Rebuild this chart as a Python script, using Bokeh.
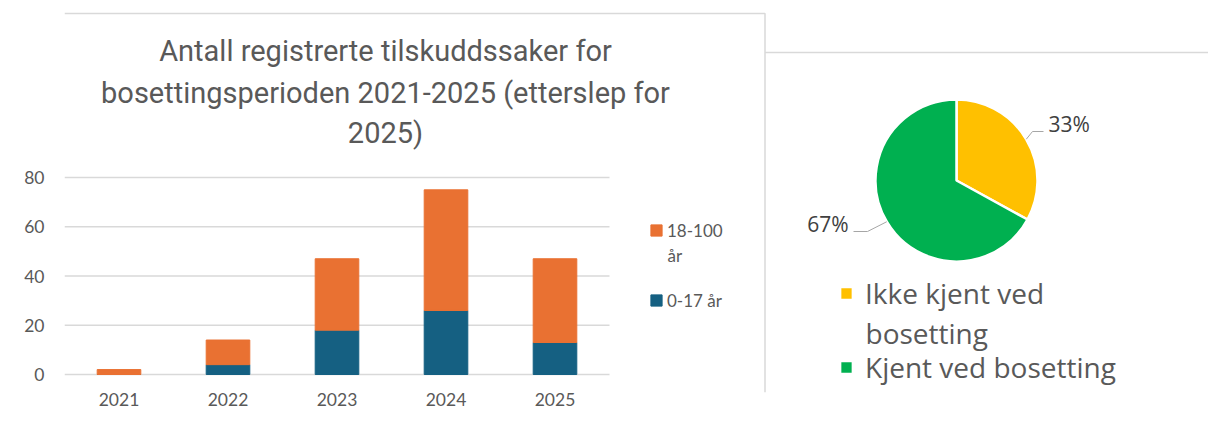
import math
from bokeh.plotting import figure
from bokeh.models import (ColumnDataSource, Range1d, FixedTicker, Label, Legend, LegendItem)
from bokeh.embed import file_html
from bokeh.resources import INLINE

# ---------------- data ----------------
years = ["2021", "2022", "2023", "2024", "2025"]
age_0_17 = [0, 4, 18, 26, 13]
age_18_100 = [2, 10, 29, 49, 34]
y_ticks = [0, 20, 40, 60, 80]
series_labels = ["0-17 år", "18-100 år"]
title_lines = ["Antall registrerte tilskuddssaker for",
               "bosettingsperioden 2021-2025 (etterslep for",
               "2025)"]

pie_labels = ["Ikke kjent ved bosetting", "Kjent ved bosetting"]
pie_shares = [33, 67]
pie_pct_text = ["33%", "67%"]

# ---------------- styles / layout ----------------
BLUE = "#156082"
ORANGE = "#E97132"
YELLOW = "#FFC000"
GREEN = "#00B050"
GRID = "#d9d9d9"
TXT = "#595959"
DARK = "#404040"

W, H = 1208, 424
FL, FB = 64, 32               # frame left / bottom borders (px)
FRAME_BOTTOM = H - FB         # page y of frame bottom
ZERO_Y = 374                  # page y of value 0
PX_PER_UNIT = 197 / 80.0
CAT_W = 109                   # px per category

p = figure(width=W, height=H,
           x_range=Range1d(-0.5, -0.5 + (W - FL) / CAT_W),
           y_range=Range1d(-(FRAME_BOTTOM - ZERO_Y) / PX_PER_UNIT, ZERO_Y / PX_PER_UNIT),
           output_backend="svg", toolbar_location=None,
           min_border_left=FL, min_border_right=0, min_border_top=0, min_border_bottom=FB)
p.extra_x_ranges = {"px": Range1d(FL, W)}
p.extra_y_ranges = {"px": Range1d(FB, H)}
p.title.visible = False
p.outline_line_color = None
p.grid.visible = False
p.background_fill_color = "white"
p.border_fill_color = "white"

for ax in (p.xaxis, p.yaxis):
    ax.axis_line_color = None
    ax.major_tick_line_color = None
    ax.minor_tick_line_color = None
    ax.major_tick_out = 0
    ax.major_tick_in = 0
    ax.major_label_text_font = "Lato"
    ax.major_label_text_font_size = "17.5px"
    ax.major_label_text_color = TXT
p.yaxis.ticker = FixedTicker(ticks=y_ticks)
p.yaxis.major_label_standoff = 20
p.xaxis.ticker = FixedTicker(ticks=list(range(len(years))))
p.xaxis.major_label_overrides = {i: yr for i, yr in enumerate(years)}
p.xaxis.major_label_standoff = 0

# horizontal gridlines limited to the bar area
p.segment(x0=-0.5, x1=len(years) - 0.5, y0=y_ticks, y1=y_ticks,
          line_color=GRID, line_width=1.5)

# stacked bars
src = ColumnDataSource(dict(x=list(range(len(years))), young=age_0_17, adult=age_18_100))
rs = p.vbar_stack(["young", "adult"], x="x", width=0.4, color=[BLUE, ORANGE], source=src)

# chart frame lines (page-pixel range)
p.line(x=[FL, 764.5, 764.5], y=[H - 13, H - 13, FB], x_range_name="px", y_range_name="px",
       line_color=GRID, line_width=1.5)
p.line(x=[764.5, W], y=[H - 52, H - 52], x_range_name="px", y_range_name="px",
       line_color=GRID, line_width=1.5)

# title
for txt, yy in zip(title_lines, [50, 92, 132]):
    p.add_layout(Label(x=385 - FL, y=FRAME_BOTTOM - yy, x_units="screen", y_units="screen",
                       text=txt, text_align="center", text_baseline="middle",
                       text_font="Roboto", text_font_size="29px",
                       text_color=TXT))

# bar legend (area-glyph swatches are drawn at 80% of the glyph box)
adult_l1, adult_l2 = series_labels[1].rsplit(" ", 1)
leg = Legend(items=[LegendItem(label=adult_l1, renderers=[rs[1]]),
                    LegendItem(label=series_labels[0], renderers=[rs[0]])],
             location=(649 - FL, FRAME_BOTTOM - 312), border_line_color=None,
             background_fill_alpha=0, padding=0, margin=0, spacing=46,
             glyph_width=14, glyph_height=14, label_height=24, label_standoff=4,
             label_text_font="Lato", label_text_font_size="17px", label_text_color=TXT)
p.add_layout(leg)
p.add_layout(Label(x=667 - FL, y=FRAME_BOTTOM - 255, x_units="screen", y_units="screen",
                   text=adult_l2, text_align="left", text_baseline="middle",
                   text_font="Lato", text_font_size="17px", text_color=TXT))

# ---------------- pie ----------------
cx, cy, rad = 956, H - 180, 81
total = float(sum(pie_shares))
starts, ends, mids = [], [], []
acc = 0.0
for s in pie_shares:
    a0 = math.pi / 2 - acc / total * 2 * math.pi
    acc += s
    a1 = math.pi / 2 - acc / total * 2 * math.pi
    starts.append(a0)
    ends.append(a1)
    mids.append((a0 + a1) / 2)
psrc = ColumnDataSource(dict(start=starts, end=ends, color=[YELLOW, GREEN]))
wr = p.wedge(x=cx, y=cy, radius=rad, radius_units="screen", start_angle="start", end_angle="end",
             direction="clock", fill_color="color", line_color="white", line_width=2.5,
             source=psrc, x_range_name="px", y_range_name="px")

# leader lines + percentage labels
elbows = [(1032, H - 131), (867, H - 231)]
tails = [(1043, H - 131), (853, H - 231)]
lab_pos = [(1048, 123, "left"), (848, 223, "right")]
xs, ys = [], []
for m, e, t in zip(mids, elbows, tails):
    xs.append([cx + rad * math.cos(m), e[0], t[0]])
    ys.append([cy + rad * math.sin(m), e[1], t[1]])
p.multi_line(xs=xs, ys=ys, line_color="#a6a6a6", line_width=1,
             x_range_name="px", y_range_name="px")
for t, (lx, ly, al) in zip(pie_pct_text, lab_pos):
    p.add_layout(Label(x=lx - FL, y=FRAME_BOTTOM - ly, x_units="screen", y_units="screen",
                       text=t, text_align=al, text_baseline="middle",
                       text_font="Open Sans", text_font_size="21px", text_color=DARK))

# pie legend
pie_l1, pie_l2 = pie_labels[0].rsplit(" ", 1)
pleg = Legend(items=[LegendItem(label=pie_l1, renderers=[wr], index=0),
                     LegendItem(label=pie_labels[1], renderers=[wr], index=1)],
              location=(838 - FL, FRAME_BOTTOM - 386), border_line_color=None,
              background_fill_alpha=0, padding=0, margin=0, spacing=36,
              glyph_width=16, glyph_height=16, label_height=38, label_standoff=11,
              label_text_font="Open Sans", label_text_font_size="28px", label_text_color=TXT)
p.add_layout(pleg)
p.add_layout(Label(x=865 - FL, y=FRAME_BOTTOM - 332, x_units="screen", y_units="screen",
                   text=pie_l2, text_align="left", text_baseline="middle",
                   text_font="Open Sans", text_font_size="28px", text_color=TXT))

open("out.html", "w").write(file_html(p, INLINE))
